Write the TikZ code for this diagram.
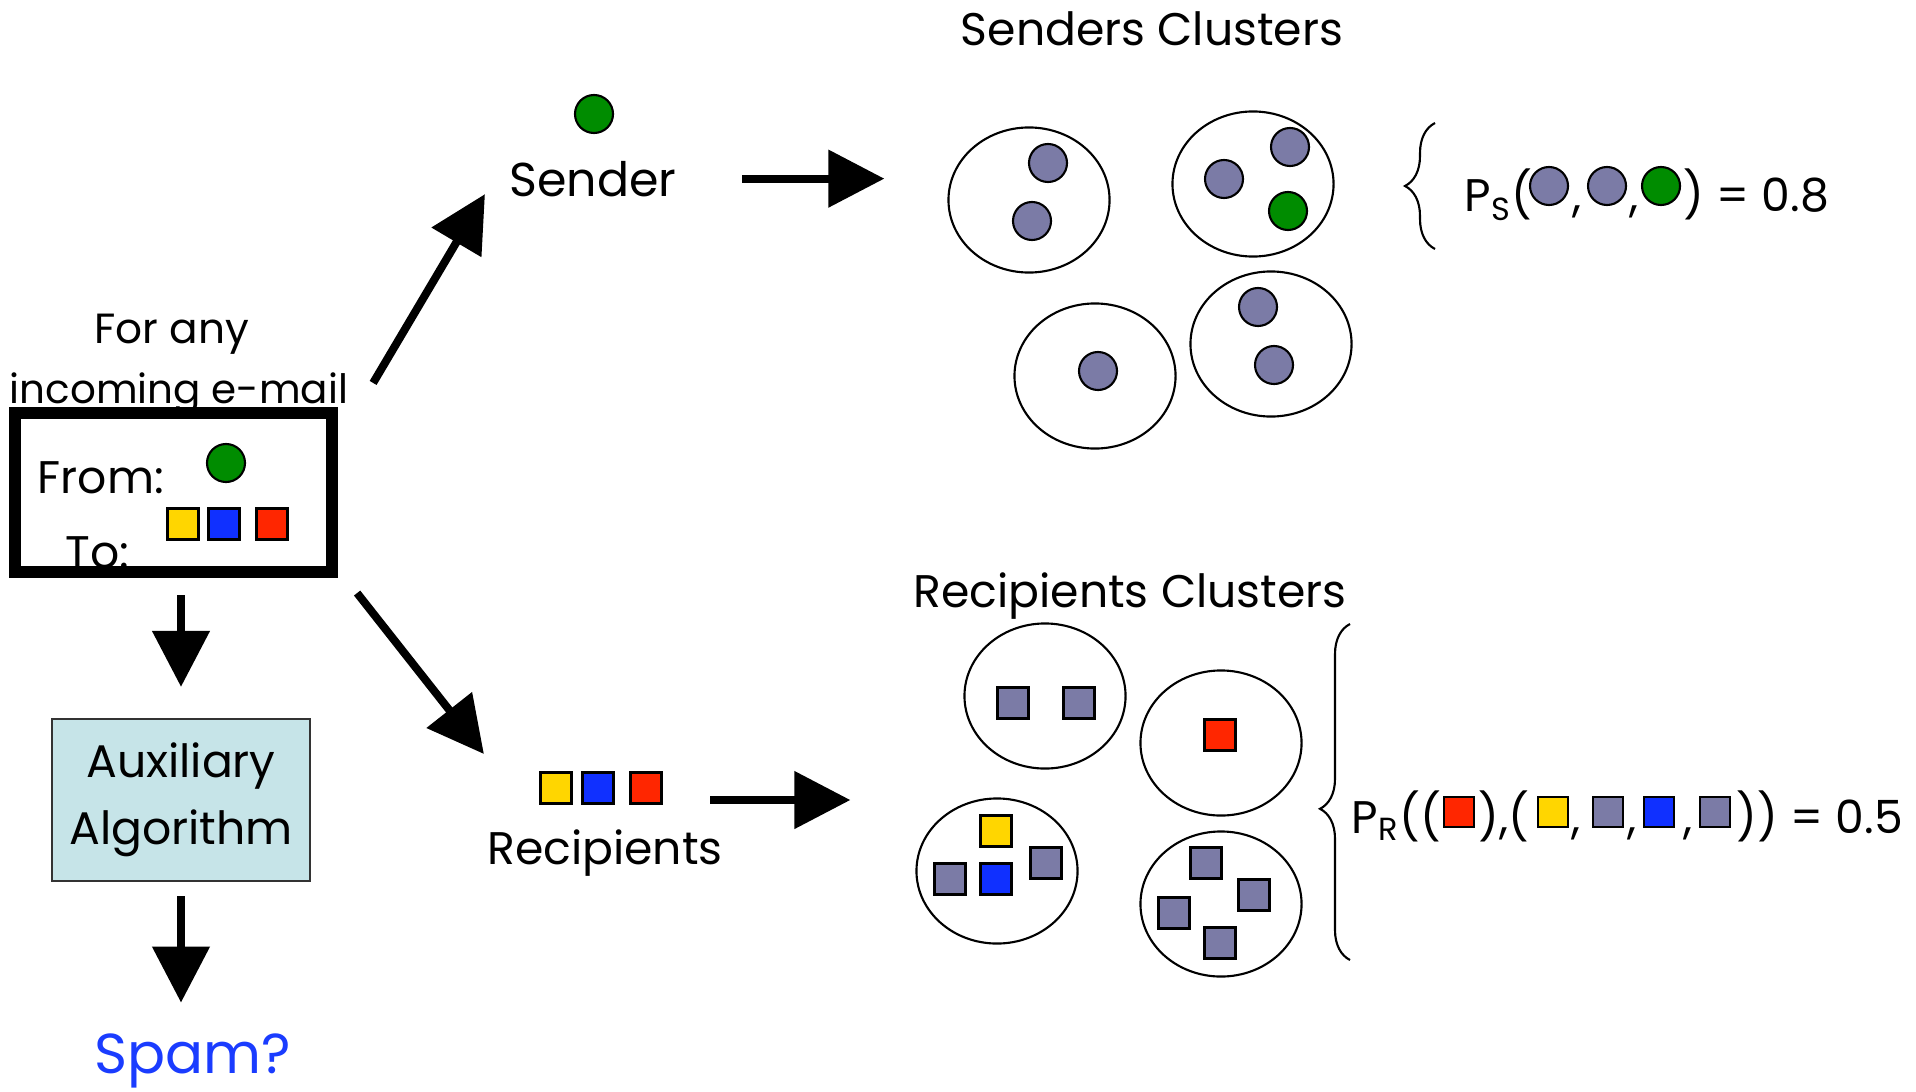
\documentclass[tikz,border=0pt]{standalone}
\usepackage{fontspec}
\setmainfont{Poppins}
\usetikzlibrary{positioning,arrows.meta,calc,shapes.geometric,decorations.pathreplacing}

\definecolor{dotgray}{RGB}{123,123,166}
\definecolor{mailgreen}{RGB}{0,140,0}
\definecolor{sqyellow}{RGB}{255,214,0}
\definecolor{sqblue}{RGB}{16,48,255}
\definecolor{sqred}{RGB}{255,38,0}
\definecolor{auxfill}{RGB}{198,228,232}
\definecolor{spamblue}{RGB}{26,60,255}

\tikzset{
  clus/.style={draw, ellipse, line width=0.6pt, minimum width=1.61cm, minimum height=1.45cm, inner sep=0pt},
  dot/.style={circle, draw, line width=0.6pt, fill=#1, minimum size=0.38cm, inner sep=0pt},
  dot/.default=dotgray,
  sq/.style={draw, line width=0.6pt, fill=#1, minimum size=0.31cm, inner sep=0pt},
  sq/.default=dotgray,
  bigarrow/.style={line width=0.08cm, -{Triangle[width=0.56cm,length=0.56cm]}},
  txt/.style={inner sep=0pt, font=\fontsize{#1}{#1}\selectfont},
  brc/.style={line width=0.6pt, decorate, decoration={brace, amplitude=0.3cm, #1}},
  brc/.default={},
}

\begin{document}
\begin{tikzpicture}[x=0.01cm, y=-0.01cm]
  \useasboundingbox (0,0) rectangle (1916,1091);

  % incoming mail
  \node[txt=12pt, anchor=base] (forany) at (172,343) {For any};
  \node[txt=11.5pt, anchor=base] (incoming) at (179,403) {incoming e-mail};
  \node[txt=13pt, anchor=base west] (from) at (37,493) {From:};
  \node[txt=13pt, anchor=base west] (to) at (65,568) {To:};
  \node[dot=mailgreen] (mfrom) at (226,463) {};
  \node[sq=sqyellow] (mto1) at (183,524) {};
  \node[sq=sqblue] (mto2) at (224,524) {};
  \node[sq=sqred] (mto3) at (272,524) {};
  \node[draw, line width=0.12cm, minimum width=3.17cm, minimum height=1.59cm] (mail) at (173.5,492.5) {};

  \node[draw=black!80, fill=auxfill, line width=0.6pt, minimum width=2.58cm, minimum height=1.62cm,
        inner sep=0pt, align=center, font=\fontsize{13pt}{19pt}\selectfont] (aux) at (181,800) {Auxiliary\\Algorithm};
  \node[txt=16pt, text=spamblue, anchor=base] (spam) at (193,1073) {Spam?};

  % sender and recipients
  \node[dot=mailgreen] (sdot) at (594,114) {};
  \node[txt=13.5pt, anchor=base] (sender) at (593,196) {Sender};
  \node[sq=sqyellow] (rq1) at (556,788) {};
  \node[sq=sqblue] (rq2) at (598,788) {};
  \node[sq=sqred] (rq3) at (646,788) {};
  \node[txt=13pt, anchor=base] (recipients) at (605,864) {Recipients};

  % senders clusters
  \node[txt=13pt, anchor=base] (stitle) at (1152,46) {Senders Clusters};
  \node[clus] (s1) at (1029,200) {};
  \node[clus] (s2) at (1253,184) {};
  \node[clus] (s3) at (1095,376) {};
  \node[clus] (s4) at (1271,344) {};
  \foreach \p [count=\i] in {(1048,163),(1032,221),(1224,179),(1290,147),(1098,371),(1258,307),(1274,365)}
    \node[dot] (sd\i) at \p {};
  \node[dot=mailgreen] (sd8) at (1288,211) {};

  % recipients clusters
  \node[txt=13pt, anchor=base] (rtitle) at (1130,607) {Recipients Clusters};
  \node[clus] (r1) at (1045,696) {};
  \node[clus] (r2) at (1221,743) {};
  \node[clus] (r3) at (997,871) {};
  \node[clus] (r4) at (1221,904) {};
  \foreach \p [count=\i] in {(1013,703),(1079,703),(950,879),(1046,863),(1206,863),(1254,895),(1174,913),(1220,943)}
    \node[sq] (rs\i) at \p {};
  \node[sq=sqred] (rs9) at (1220,735) {};
  \node[sq=sqyellow] (rs10) at (996,831) {};
  \node[sq=sqblue] (rs11) at (996,879) {};

  % probabilities
  \draw[brc] (1435,249) -- (1435,123);
  \node[txt=13pt, anchor=base west] (psl) at (1464,212) {P\textsubscript{S}(};
  \node[dot] (ps1) at (1549,186) {};
  \node[txt=13pt, anchor=base] (psc1) at (1577,212) {,};
  \node[dot] (ps2) at (1607,186) {};
  \node[txt=13pt, anchor=base] (psc2) at (1634,212) {,};
  \node[dot=mailgreen] (ps3) at (1661,186) {};
  \node[txt=13pt, anchor=base west] (psr) at (1683,212) {) = 0.8};

  \draw[brc={aspect=0.45}] (1350,960) -- (1350,624);
  \node[txt=13pt, anchor=base west] (prl) at (1351,833) {P\textsubscript{R}((};
  \node[sq=sqred, minimum size=0.3cm] (pr1) at (1459,812) {};
  \node[txt=13pt, anchor=base west] (prm) at (1478,833) {),(};
  \node[sq=sqyellow, minimum size=0.3cm] (pr2) at (1553,812) {};
  \node[txt=13pt, anchor=base] (prc1) at (1576,833) {,};
  \node[sq, minimum size=0.3cm] (pr3) at (1608,812) {};
  \node[txt=13pt, anchor=base] (prc2) at (1632,833) {,};
  \node[sq=sqblue, minimum size=0.3cm] (pr4) at (1659,812) {};
  \node[txt=13pt, anchor=base] (prc3) at (1688,833) {,};
  \node[sq, minimum size=0.3cm] (pr5) at (1715,812) {};
  \node[txt=13pt, anchor=base west] (prr) at (1736,833) {)) = 0.5};

  % arrows
  \draw[bigarrow] ([xshift=0.35cm,yshift=0.24cm]mail.north east) -- ([xshift=-1.08cm,yshift=0.03cm]sender.south);
  \draw[bigarrow] ([xshift=0.19cm,yshift=-0.15cm]mail.south east) -- ([xshift=-0.555cm,yshift=0.34cm]rq1.west);
  \draw[bigarrow, shorten >=0.63cm] ([xshift=1.49cm]sender.center) -- (sender.center -| s1.west);
  \draw[bigarrow, shorten >=0.65cm] ([xshift=0.64cm,yshift=-0.12cm]rq3.center) -- ([yshift=-0.12cm]rq3.center -| r3.west);
  \draw[bigarrow, shorten <=0.17cm, shorten >=0.31cm] (mail.south -| aux.north) -- (aux.north);
  \draw[bigarrow, shorten <=0.14cm, shorten >=0.3cm] (aux.south) -- (aux.south |- spam.north);
\end{tikzpicture}
\end{document}
